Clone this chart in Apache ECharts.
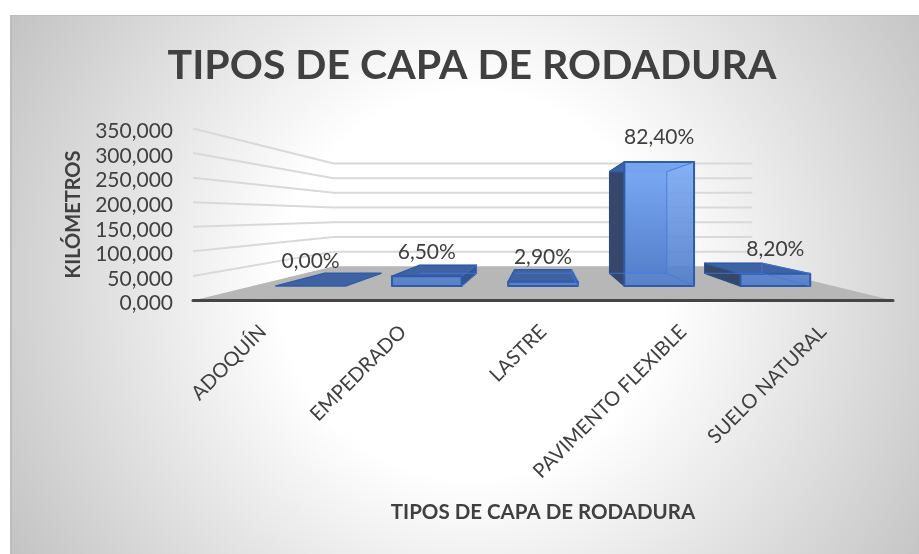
<!DOCTYPE html>
<html>
<head>
<meta charset="utf-8">
<style>html,body{margin:0;padding:0;background:#fff}#c{width:919px;height:554px}</style>
<script src="https://cdn.jsdelivr.net/npm/echarts@6/dist/echarts.min.js"></script>
</head>
<body>
<div id="c"></div>
<script>
const chartTitle = 'TIPOS DE CAPA DE RODADURA';
const xAxisTitle = 'TIPOS DE CAPA DE RODADURA';
const yAxisTitle = 'KILÓMETROS';
const categories = ['ADOQUÍN', 'EMPEDRADO', 'LASTRE', 'PAVIMENTO FLEXIBLE', 'SUELO NATURAL'];
const kilometres = [0, 24, 10.7, 304, 30];
const shareLabels = ['0,00%', '6,50%', '2,90%', '82,40%', '8,20%'];
const gridTicks = [50, 100, 150, 200, 250, 300, 350];

const FONT = 'Lato, Carlito, Calibri, sans-serif';
const TEXT = '#404040';
const VANISH_VALUE = 173;      // height of the vanishing point on the value axis
const PERSPECTIVE = 0.672;     // shrink factor of the receding depth axis
const BAR_FRONT = 0.305, BAR_BACK = 0.70; // depth of bars in floor

function projector(api) {
  const vp = api.coord([2, VANISH_VALUE]);
  return function (pt, depth) {
    const s = 1 / (1 + PERSPECTIVE * depth);
    return [vp[0] + (pt[0] - vp[0]) * s, vp[1] + (pt[1] - vp[1]) * s];
  };
}
function poly(points, fill, stroke, lw) {
  return { type: 'polygon', shape: { points: points },
    style: { fill: fill, stroke: stroke || null, lineWidth: lw || 0, lineJoin: 'round' } };
}
function renderFloor(params, api) {
  const p = projector(api);
  const half = api.size([1, 0])[0] / 2;
  const l = api.coord([0, 0]); l[0] -= half;
  const r = api.coord([categories.length - 1, 0]); r[0] += half;
  return { type: 'group', children: [
    poly([l, p(l, 1), p(r, 1), r], '#b7b7b7'),
    { type: 'line', shape: { x1: l[0], y1: l[1], x2: r[0], y2: r[1] },
      style: { stroke: '#454545', lineWidth: 3, lineCap: 'round' } }
  ]};
}
function renderGridline(params, api) {
  const p = projector(api);
  const half = api.size([1, 0])[0] / 2;
  const v = api.value(1);
  const l = api.coord([0, v]); l[0] -= half;
  const r = api.coord([categories.length - 1, v]); r[0] += half;
  return { type: 'polyline', shape: { points: [l, p(l, 1), p(r, 1)] },
    style: { fill: null, stroke: '#d9d9d9', lineWidth: 2 } };
}
function renderBar(params, api) {
  const p = projector(api);
  const idx = api.value(0), v = api.value(1);
  const w = api.size([1, 0])[0] * 0.6;
  const c0 = api.coord([idx, 0]), c1 = api.coord([idx, v]);
  const L = c0[0] - w / 2, R = c0[0] + w / 2, Y0 = c0[1], Y1 = c1[1];
  const F = BAR_FRONT, B = BAR_BACK;
  const fbl = p([L, Y0], F), fbr = p([R, Y0], F), ftl = p([L, Y1], F), ftr = p([R, Y1], F);
  const bbl = p([L, Y0], B), bbr = p([R, Y0], B), btl = p([L, Y1], B), btr = p([R, Y1], B);
  const edge = '#2f5ca8', inner = 'rgba(80,130,220,0.9)';
  const vpx = api.coord([2, 0])[0];
  const dark = '#36476b';
  const tallTop = p([0, api.coord([0, 304])[1]], F)[1];
  const backFill = { type: 'linear', x: 0, y: tallTop, x2: 0, y2: fbl[1], global: true,
    colorStops: [{ offset: 0, color: '#7aa6f0' }, { offset: 1, color: '#4a70b8' }] };
  const frontFill = { type: 'linear', x: 0, y: tallTop, x2: 0, y2: fbl[1], global: true,
    colorStops: [{ offset: 0, color: 'rgba(125,171,245,0.92)' }, { offset: 1, color: 'rgba(82,125,201,0.92)' }] };
  const children = [];
  if (v > 0) {
    children.push(poly([btl, btr, bbr, bbl], backFill, inner, 1));
    if (c0[0] > vpx + 1) {
      children.push(poly([ftl, btl, bbl, fbl], dark, '#2b4a85', 1.4));
    } else if (c0[0] < vpx - 1) {
      children.push(poly([ftr, btr, bbr, fbr], '#33558f', '#2b5090', 1.4));
    }
  }
  children.push(poly([ftl, ftr, btr, btl], '#3f62a3', edge, 1.4));
  if (v > 0) {
    children.push(poly([ftl, ftr, fbr, fbl], frontFill, '#2f5ca8', 2));
    const thin = { fill: null, stroke: 'rgba(70,120,215,0.8)', lineWidth: 1 };
    children.push({ type: 'polyline', shape: { points: [btr, bbr, bbl] }, style: thin });
    children.push({ type: 'line', shape: { x1: bbr[0], y1: bbr[1], x2: fbr[0], y2: fbr[1] }, style: thin });
    children.push({ type: 'line', shape: { x1: btr[0], y1: btr[1], x2: ftr[0], y2: ftr[1] }, style: thin });
  }
  children.push({ type: 'text', style: {
    text: shareLabels[idx], x: (ftl[0] + ftr[0]) / 2, y: ftl[1] - 24.5,
    align: 'center', verticalAlign: 'middle', fill: TEXT, font: '21px ' + FONT } });
  return { type: 'group', children: children };
}

const chart = echarts.init(document.getElementById('c'), null, { renderer: 'canvas' });
chart.setOption({
  animation: false,
  backgroundColor: '#ffffff',
  graphic: [{
    type: 'rect', z: -10, silent: true,
    shape: { x: 10.5, y: 15.5, width: 930, height: 560 },
    style: {
      stroke: '#bdbdbd', lineWidth: 1,
      fill: { type: 'radial', x: 472, y: 285, r: 535, global: true,
        colorStops: [{ offset: 0, color: '#ffffff' }, { offset: 0.36, color: '#ffffff' }, { offset: 1, color: '#c3c3c3' }] }
    }
  }, {
    type: 'rect', z: -9, silent: true,
    shape: { x: 10, y: 15, width: 2, height: 540 },
    style: { fill: '#bdbdbd' }
  }],
  title: {
    text: chartTitle, left: 467, top: 61, textAlign: 'center', textVerticalAlign: 'middle',
    textStyle: { fontFamily: FONT, fontSize: 41, fontWeight: 'bold', color: TEXT }
  },
  grid: { left: 193, top: 128.5, width: 700, height: 172, containLabel: false },
  xAxis: {
    type: 'category', data: categories,
    name: xAxisTitle, nameLocation: 'middle', nameGap: 201,
    nameTextStyle: { fontFamily: FONT, fontSize: 20.5, fontWeight: 'bold', color: TEXT },
    axisLine: { show: false }, axisTick: { show: false },
    axisLabel: { rotate: 45, margin: 28, interval: 0, fontFamily: FONT, fontSize: 20, color: TEXT }
  },
  yAxis: {
    type: 'value', min: 0, max: 350, interval: 50,
    name: yAxisTitle, nameLocation: 'middle', nameGap: 109, nameRotate: 90,
    nameTextStyle: { fontFamily: FONT, fontSize: 20, fontWeight: 'bold', color: TEXT },
    axisLine: { show: false }, axisTick: { show: false }, splitLine: { show: false },
    axisLabel: { margin: 20, fontFamily: FONT, fontSize: 21, color: TEXT, verticalAlign: 'top', lineHeight: 6,
      formatter: function (v) { return v + ',000'; } }
  },
  series: [
    { type: 'custom', z: 2, silent: true, clip: false, renderItem: renderGridline,
      data: gridTicks.map(function (t) { return [0, t]; }) },
    { type: 'custom', z: 3, silent: true, clip: false, renderItem: renderFloor, data: [[0, 0]] },
    { type: 'custom', z: 4, silent: true, clip: false, renderItem: renderBar,
      data: kilometres.map(function (v, i) { return [i, v]; }), encode: { x: 0, y: 1 } }
  ]
});
</script>
</body>
</html>
